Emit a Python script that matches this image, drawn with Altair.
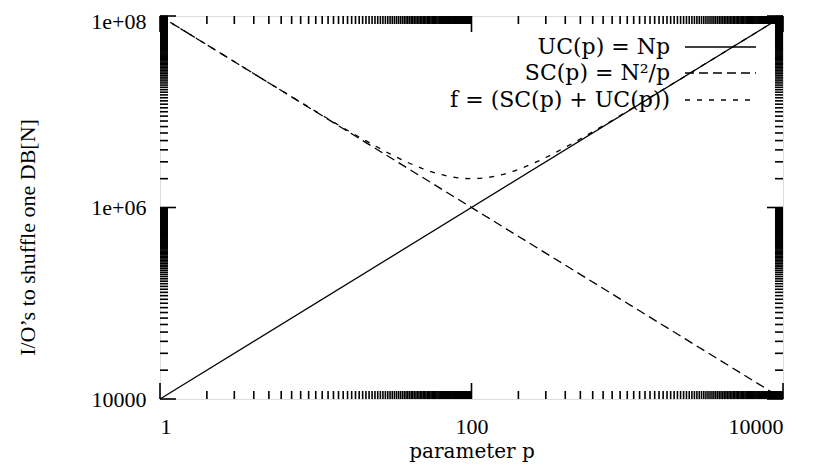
import altair as alt
import pandas as pd

# ---------------- data ----------------
uc_p = [1, 10000]
uc_io = [1e4, 1e8]

sc_p = [1, 10000]
sc_io = [1e8, 1e4]

f_p = [1, 2, 3, 5, 7, 10, 15, 20, 30, 40, 50, 60, 70, 80, 90, 100, 110, 125,
       150, 175, 200, 250, 300, 400, 500, 700, 1000, 1500, 2000, 3000, 5000, 7000, 10000]
f_io = [1.0e8, 5.0e7, 3.34e7, 2.0e7, 1.44e7, 1.01e7, 6.8e6, 5.2e6, 3.63e6, 2.9e6, 2.5e6,
        2.27e6, 2.13e6, 2.05e6, 2.01e6, 2.0e6, 2.01e6, 2.05e6, 2.17e6, 2.32e6, 2.5e6,
        2.9e6, 3.33e6, 4.25e6, 5.2e6, 7.14e6, 1.01e7, 1.51e7, 2.0e7, 3.0e7, 5.0e7, 7.0e7, 1.0e8]

series_labels = ["UC(p) = Np", "SC(p) = N\u00b2/p", "f = (SC(p) + UC(p))"]

x_tick_values = [1, 100, 10000]
x_tick_labels = ["1", "100", "10000"]
y_tick_values = [1e4, 1e6, 1e8]
y_tick_labels = ["10000", "1e+06", "1e+08"]

x_title = "parameter p"
y_title = "I/O\u2019s to shuffle one DB[N]"

# minor tick positions (gnuplot style: every multiple of the decade start)
x_minor = [k * d for d in [1, 100] for k in range(2, 100)]
y_minor = [k * d for d in [1e4, 1e6] for k in range(2, 100)]

# ---------------- layout ----------------
W, H = 623, 383
FONT = "Liberation Serif"
FONT2 = "DejaVu Serif"
MAJ, MIN = 16, 8

xs = alt.Scale(type="log", domain=[1, 10000])
ys = alt.Scale(type="log", domain=[1e4, 1e8])


def label_expr(vals, labs):
    parts = " : ".join(f"datum.value == {v} ? '{l}'" for v, l in zip(vals, labs))
    return parts + " : ''"


x_axis = alt.Axis(values=x_tick_values, labelExpr=label_expr(x_tick_values, x_tick_labels),
                  ticks=False, tickSize=0, domain=False, grid=False, labelFont=FONT,
                  labelFontSize=22, labelPadding=17, labelColor="black", title=x_title,
                  titleFont=FONT2, titleFontSize=20, titleFontWeight="normal",
                  titleColor="black", titlePadding=4)
y_axis = alt.Axis(values=y_tick_values, labelExpr=label_expr(y_tick_values, y_tick_labels),
                  ticks=False, tickSize=0, domain=False, grid=False, labelFont=FONT,
                  labelFontSize=22, labelPadding=14, labelColor="black",
                  labelOffset={"condition": {"test": "datum.value >= 50000000", "value": 5},
                               "value": 0},
                  title=y_title, titleY=221,
                  titleFont=FONT, titleFontSize=22, titleFontWeight="normal",
                  titleColor="black", titlePadding=51)

uc_df = pd.DataFrame({"p": uc_p, "io": uc_io})
sc_df = pd.DataFrame({"p": sc_p, "io": sc_io})
f_df = pd.DataFrame({"p": f_p, "io": f_io})

uc_line = alt.Chart(uc_df).mark_line(color="black", strokeWidth=1.3).encode(
    x=alt.X("p:Q", scale=xs, axis=x_axis),
    y=alt.Y("io:Q", scale=ys, axis=y_axis),
)
sc_line = alt.Chart(sc_df).mark_line(color="black", strokeWidth=1.3, strokeDash=[9, 5]).encode(
    x=alt.X("p:Q", scale=xs), y=alt.Y("io:Q", scale=ys))
f_line = alt.Chart(f_df).mark_line(color="black", strokeWidth=1.3, strokeDash=[5, 7],
                                   interpolate="monotone").encode(
    x=alt.X("p:Q", scale=xs), y=alt.Y("io:Q", scale=ys))


def xticks(vals, length, top):
    d = pd.DataFrame({"p": vals})
    if top:
        yy, yy2 = alt.value(0), alt.value(length)
    else:
        yy, yy2 = alt.value(H), alt.value(H - length)
    return alt.Chart(d).mark_rule(color="black", strokeWidth=1.6).encode(
        x=alt.X("p:Q", scale=xs), y=yy, y2=yy2)


def yticks(vals, length, right):
    d = pd.DataFrame({"io": vals})
    if right:
        xx, xx2 = alt.value(W), alt.value(W - length)
    else:
        xx, xx2 = alt.value(0), alt.value(length)
    return alt.Chart(d).mark_rule(color="black", strokeWidth=1.6).encode(
        y=alt.Y("io:Q", scale=ys), x=xx, x2=xx2)


ticks = [
    xticks(x_minor, MIN, False), xticks(x_minor, MIN, True),
    xticks(x_tick_values, MAJ, False), xticks(x_tick_values, MAJ, True),
    yticks(y_minor, MIN, False), yticks(y_minor, MIN, True),
    yticks(y_tick_values, MAJ, False), yticks(y_tick_values, MAJ, True),
]

# legend (gnuplot style: label on the left, sample on the right)
leg_y = [31, 57, 84]
dashes = [None, [9, 5], [5, 7]]
legend = []
for lab, yy, dash in zip(series_labels, leg_y, dashes):
    d = pd.DataFrame({"label": [lab]})
    legend.append(alt.Chart(d).mark_text(align="right", baseline="middle", font=FONT2,
                                         fontSize=22, color="black").encode(
        text="label:N", x=alt.value(510), y=alt.value(yy)))
    kw = dict(color="black", strokeWidth=1.3)
    if dash:
        kw["strokeDash"] = dash
    legend.append(alt.Chart(d).mark_rule(**kw).encode(
        x=alt.value(525), x2=alt.value(596), y=alt.value(yy)))

chart = alt.layer(uc_line, sc_line, f_line, *ticks, *legend).properties(
    width=W, height=H,
    autosize=alt.AutoSizeParams(type="none"),
    padding={"left": 152, "top": 8, "right": 23, "bottom": 63},
).configure_view(stroke="black", strokeWidth=2.5).configure(background="white")

chart.save("out.html", embed_options={"renderer": "svg", "actions": False})
